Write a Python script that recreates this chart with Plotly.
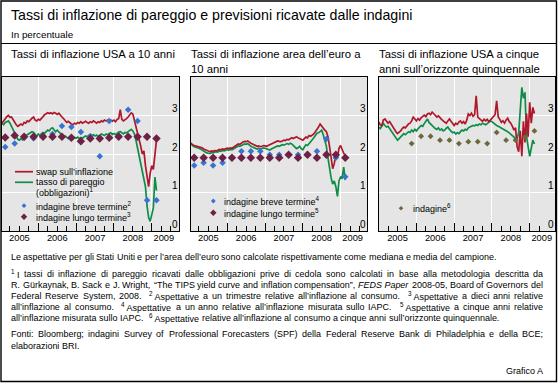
import plotly.graph_objects as go

# ---------------- data ----------------
# semi-monthly observation dates (decimal years), Jan 2005 - Feb 2009
T = [round(2005 + i / 24, 4) for i in range(100)]

US10_SWAP = [2.84, 2.80, 2.86, 2.93, 2.97, 3.00, 2.95, 2.96, 2.88, 2.82,
             2.76, 2.72, 2.74, 2.78, 2.75, 2.82, 2.80, 2.86, 2.84, 2.90,
             2.93, 2.96, 2.88, 2.86, 2.90, 2.88, 2.94, 2.97, 3.02, 3.04,
             3.07, 3.05, 3.07, 3.04, 3.08, 3.06, 3.03, 3.06, 3.00, 2.96,
             2.92, 2.86, 2.82, 2.85, 2.80, 2.78, 2.76, 2.80, 2.78, 2.82,
             2.80, 2.84, 2.80, 2.82, 2.85, 2.82, 2.80, 2.84, 2.82, 2.86,
             2.83, 2.80, 2.84, 2.82, 2.86, 2.84, 2.88, 2.86, 2.88, 2.84,
             2.88, 2.85, 2.88, 2.84, 2.90, 2.92, 3.15, 2.90, 2.86, 2.88,
             2.92, 2.96, 3.02, 3.07, 3.04, 2.88, 2.70, 2.50, 2.35, 2.20,
             2.00, 2.08, 1.70, 1.40, 1.15, 1.50, 1.70, 1.60, 2.00, 2.36]
US10_BE = [2.78, 2.80, 2.76, 2.82, 2.84, 2.86, 2.80, 2.72, 2.62, 2.55,
           2.45, 2.38, 2.36, 2.40, 2.37, 2.44, 2.48, 2.50, 2.52, 2.55,
           2.58, 2.56, 2.50, 2.46, 2.52, 2.48, 2.53, 2.56, 2.54, 2.58,
           2.62, 2.60, 2.66, 2.68, 2.62, 2.58, 2.62, 2.58, 2.52, 2.48,
           2.45, 2.47, 2.43, 2.40, 2.44, 2.42, 2.40, 2.43, 2.41, 2.44,
           2.40, 2.43, 2.41, 2.44, 2.47, 2.45, 2.49, 2.51, 2.48, 2.50,
           2.47, 2.49, 2.45, 2.48, 2.52, 2.50, 2.48, 2.52, 2.50, 2.53,
           2.55, 2.51, 2.53, 2.50, 2.55, 2.57, 2.58, 2.54, 2.52, 2.56,
           2.55, 2.58, 2.61, 2.64, 2.60, 2.52, 2.35, 2.15, 1.95, 1.75,
           1.55, 1.40, 1.15, 0.65, 0.35, 0.25, 0.45, 0.60, 1.40, 1.05]
EU_SWAP = [2.30, 2.26, 2.24, 2.22, 2.21, 2.20, 2.19, 2.18, 2.16, 2.13,
           2.11, 2.08, 2.07, 2.06, 2.08, 2.07, 2.09, 2.08, 2.10, 2.12,
           2.11, 2.13, 2.12, 2.14, 2.15, 2.14, 2.16, 2.15, 2.18, 2.21,
           2.24, 2.26, 2.25, 2.29, 2.31, 2.33, 2.32, 2.34, 2.30, 2.28,
           2.26, 2.24, 2.22, 2.20, 2.21, 2.19, 2.20, 2.22, 2.21, 2.20,
           2.22, 2.24, 2.26, 2.29, 2.31, 2.32, 2.34, 2.33, 2.32, 2.34,
           2.36, 2.35, 2.38, 2.37, 2.40, 2.42, 2.40, 2.43, 2.45, 2.42,
           2.40, 2.38, 2.36, 2.40, 2.44, 2.42, 2.48, 2.46, 2.48, 2.52,
           2.58, 2.63, 2.70, 2.78, 2.72, 2.66, 2.62, 2.58, 2.45, 2.19,
           1.85, 1.62, 1.75, 2.00, 1.90, 2.15, 2.22, 2.10, 2.02, 1.95]
EU_BE = [2.32, 2.26, 2.22, 2.19, 2.18, 2.16, 2.15, 2.13, 2.10, 2.08,
         2.05, 2.03, 2.02, 2.01, 2.04, 2.03, 2.05, 2.06, 2.05, 2.08,
         2.07, 2.09, 2.08, 2.10, 2.11, 2.10, 2.12, 2.11, 2.14, 2.16,
         2.19, 2.21, 2.20, 2.23, 2.24, 2.26, 2.25, 2.27, 2.23, 2.20,
         2.18, 2.16, 2.14, 2.13, 2.15, 2.12, 2.14, 2.16, 2.15, 2.13,
         2.12, 2.10, 2.13, 2.15, 2.17, 2.19, 2.21, 2.20, 2.22, 2.24,
         2.23, 2.25, 2.27, 2.25, 2.28, 2.26, 2.22, 2.18, 2.14, 2.16,
         2.20, 2.14, 2.11, 2.18, 2.24, 2.22, 2.28, 2.34, 2.37, 2.42,
         2.48, 2.54, 2.55, 2.60, 2.62, 2.50, 2.38, 2.20, 1.90, 1.60,
         1.38, 1.22, 1.30, 1.15, 0.90, 1.30, 1.40, 1.38, 1.66, 1.32]
US5Y5Y_SWAP = [2.83, 2.76, 2.74, 2.88, 2.91, 2.85, 2.80, 2.84, 2.77, 2.70,
               2.62, 2.58, 2.53, 2.56, 2.60, 2.66, 2.70, 2.68, 2.74, 2.78,
               2.80, 2.86, 2.96, 2.90, 2.86, 2.92, 2.88, 2.94, 2.98, 3.01,
               2.97, 3.04, 3.06, 3.02, 3.09, 3.05, 3.02, 2.96, 2.99, 2.93,
               2.90, 2.86, 2.83, 2.80, 2.86, 2.91, 2.85, 2.78, 2.74, 2.80,
               2.77, 2.83, 2.86, 2.80, 2.84, 2.78, 2.88, 3.04, 3.00, 3.06,
               2.98, 3.02, 3.51, 2.96, 2.92, 2.88, 2.85, 2.90, 2.86, 2.90,
               2.84, 2.88, 2.92, 2.96, 3.02, 3.38, 2.96, 2.90, 2.82, 2.86,
               2.80, 2.88, 2.93, 2.84, 2.80, 2.72, 2.62, 2.68, 2.19, 2.06,
               2.60, 1.94, 2.85, 2.30, 3.05, 2.45, 3.34, 2.80, 3.21, 3.05]
US5Y5Y_BE = [2.70, 2.66, 2.72, 2.79, 2.74, 2.70, 2.72, 2.66, 2.62, 2.56,
             2.49, 2.42, 2.36, 2.40, 2.45, 2.50, 2.53, 2.50, 2.54, 2.58,
             2.56, 2.62, 2.58, 2.64, 2.60, 2.66, 2.70, 2.74, 2.72, 2.79,
             2.84, 2.91, 2.82, 2.78, 2.72, 2.70, 2.66, 2.64, 2.68, 2.62,
             2.65, 2.60, 2.62, 2.67, 2.70, 2.64, 2.58, 2.55, 2.57, 2.52,
             2.55, 2.53, 2.58, 2.62, 2.60, 2.64, 2.62, 2.68, 2.70, 2.72,
             2.74, 2.73, 2.76, 2.74, 2.78, 2.76, 2.80, 2.78, 2.76, 2.79,
             2.82, 2.86, 2.84, 2.80, 2.78, 2.74, 2.72, 2.70, 2.68, 2.66,
             2.64, 2.60, 2.58, 2.55, 2.52, 2.48, 2.44, 2.36, 2.40, 2.55,
             3.10, 3.73, 3.45, 3.60, 2.45, 2.19, 1.94, 2.15, 2.36, 2.26]

# quarterly survey dates
TQ = [2005.125, 2005.375, 2005.625, 2005.875, 2006.125, 2006.375, 2006.625, 2006.875,
      2007.125, 2007.375, 2007.625, 2007.875, 2008.125, 2008.375, 2008.625, 2008.875, 2009.125]
US_SHORT = [2.18, 2.27, 2.43, 2.41, 2.48, 2.52, 2.73, 2.70, 2.57, 2.46, 1.94, 2.86,
            2.48, 3.15, 2.86, 0.80, 0.80]
US_LONG = [2.43, 2.48, 2.45, 2.45, 2.45, 2.45, 2.45, 2.42, 2.33, 2.40, 2.40, 2.42,
           2.45, 2.45, 2.45, 2.45, 2.40]
EU_SHORT = [1.70, 1.77, 1.70, 1.77, 1.90, 2.07, 2.07, 2.07, 1.98, 1.98, 1.98, 1.98,
            1.98, 2.07, 2.39, 1.90, 1.41]
EU_LONG = [1.90, 1.90, 1.90, 1.90, 1.90, 1.90, 1.90, 1.90, 1.90, 1.90, 1.98, 1.90,
           1.98, 1.90, 1.98, 1.98, 1.90]
TQ6 = [2005.875, 2006.125, 2006.375, 2006.625, 2006.875, 2007.125, 2007.375, 2007.625,
       2007.875, 2008.125, 2008.375, 2008.625, 2008.875, 2009.125]
US_5Y5Y_SURVEY = [2.27, 2.46, 2.46, 2.36, 2.36, 2.27, 2.32, 2.32, 2.27, 2.56, 2.36,
                  2.36, 2.44, 2.60]

YEAR_LABELS = ["2005", "2006", "2007", "2008", "2009"]
YEAR_LABEL_POS = [2005.5, 2006.5, 2007.5, 2008.5, 2009.32]
Y_TICKS = [0, 1, 2, 3]

# ---------------- style ----------------
W_PX, H_PX = 558, 383
FONT = "Liberation Sans, Arial, sans-serif"
RED = "#b0172b"
GREEN = "#0f8d48"
BLUE = "#3a72cf"
PURPLE = "#6d2145"
OLIVE = "#6b693c"
PANEL_BG = "#e5e5e5"


def px(x):
    return x / W_PX


def py(y):
    return 1 - y / H_PX


fig = go.Figure()

panels = [
    ("x", "y", T, US10_SWAP, US10_BE),
    ("x2", "y2", T, EU_SWAP, EU_BE),
    ("x3", "y3", T, US5Y5Y_SWAP, US5Y5Y_BE),
]
for xa, ya, t, red, green in panels:
    fig.add_trace(go.Scatter(x=t, y=green, mode="lines", xaxis=xa, yaxis=ya,
                             line=dict(color=GREEN, width=1.7)))
    fig.add_trace(go.Scatter(x=t, y=red, mode="lines", xaxis=xa, yaxis=ya,
                             line=dict(color=RED, width=1.7)))

fig.add_trace(go.Scatter(x=TQ, y=US_SHORT, mode="markers", xaxis="x", yaxis="y",
                         marker=dict(symbol="diamond", size=5, color=BLUE)))
fig.add_trace(go.Scatter(x=TQ, y=US_LONG, mode="markers", xaxis="x", yaxis="y",
                         marker=dict(symbol="diamond", size=6.5, color=PURPLE)))
fig.add_trace(go.Scatter(x=TQ, y=EU_SHORT, mode="markers", xaxis="x2", yaxis="y2",
                         marker=dict(symbol="diamond", size=5, color=BLUE)))
fig.add_trace(go.Scatter(x=TQ, y=EU_LONG, mode="markers", xaxis="x2", yaxis="y2",
                         marker=dict(symbol="diamond", size=6.5, color=PURPLE)))
fig.add_trace(go.Scatter(x=TQ6, y=US_5Y5Y_SURVEY, mode="markers", xaxis="x3", yaxis="y3",
                         marker=dict(symbol="diamond", size=4.5, color=OLIVE)))
# empty traces so the label-only overlay axes are instantiated
for xa, ya in (("x4", "y"), ("x5", "y2"), ("x6", "y3")):
    fig.add_trace(go.Scatter(x=[], y=[], xaxis=xa, yaxis=ya, mode="markers"))

X_DOMAINS = [(2, 179), (191, 367), (379, 555)]
X_RANGES = [(2005.04, 2009.72), (2005.04, 2009.70), (2005.01, 2009.67)]
Y_DOMAIN = [py(231), py(77)]

layout = dict(
    width=W_PX, height=H_PX, autosize=False,
    margin=dict(l=0, r=0, t=0, b=0, pad=0),
    paper_bgcolor="white", plot_bgcolor=PANEL_BG,
    showlegend=False,
    font=dict(family=FONT, color="black", size=10),
)

for k, ((d0, d1), rng) in enumerate(zip(X_DOMAINS, X_RANGES)):
    xn = "xaxis" if k == 0 else f"xaxis{k + 1}"
    yn = "yaxis" if k == 0 else f"yaxis{k + 1}"
    xref = "x" if k == 0 else f"x{k + 1}"
    yref = "y" if k == 0 else f"y{k + 1}"
    layout[xn] = dict(
        domain=[px(d0), px(d1)], range=list(rng), anchor=yref,
        tickmode="array", tickvals=[2006, 2007, 2008, 2009],
        ticks="inside", ticklen=8, tickwidth=1, tickcolor="black",
        showticklabels=False, showgrid=True, gridcolor="white", gridwidth=1,
        showline=True, linecolor="black", linewidth=1, mirror=True, zeroline=False,
        minor=dict(dtick=0.25, tick0=2005, ticks="inside", ticklen=5, tickwidth=1,
                   tickcolor="black", showgrid=False),
        fixedrange=True,
    )
    layout[f"xaxis{k + 4}"] = dict(
        overlaying=xref, anchor=yref, range=list(rng),
        tickmode="array", tickvals=YEAR_LABEL_POS, ticktext=YEAR_LABELS,
        ticks="", showgrid=False, showline=False, zeroline=False, side="bottom",
        tickfont=dict(size=9.3, family=FONT, color="black"), fixedrange=True,
    )
    layout[yn] = dict(
        domain=Y_DOMAIN, range=[0, 4], anchor=xref, side="right",
        tickmode="array", tickvals=Y_TICKS, ticktext=[str(v) for v in Y_TICKS],
        ticks="", ticklabelposition="inside top",
        tickfont=dict(size=10, family=FONT, color="black"),
        showgrid=True, gridcolor="white", gridwidth=1,
        showline=True, linecolor="black", linewidth=1, mirror=True, zeroline=False,
        fixedrange=True,
    )

annotations = []
shapes = []


def txt(x, y, s, size, anchor="left"):
    annotations.append(dict(x=px(x), y=py(y), xref="paper", yref="paper", text=s,
                            showarrow=False, xanchor=anchor, yanchor="middle",
                            borderpad=0, borderwidth=0,
                            font=dict(size=size, family=FONT, color="black")))


# frame
shapes.append(dict(type="rect", xref="paper", yref="paper", x0=px(1), x1=px(556.5),
                   y0=py(381.5), y1=py(1), line=dict(color="black", width=1.4),
                   fillcolor="rgba(0,0,0,0)", layer="above"))
shapes.append(dict(type="line", xref="paper", yref="paper", x0=px(1), x1=px(556.5),
                   y0=py(43.5), y1=py(43.5), line=dict(color="black", width=1.2)))

# titles
txt(11, 15, "Tassi di inflazione di pareggio e previsioni ricavate dalle indagini", 14.2)
txt(11, 34, "In percentuale", 9.8)
txt(11, 54.5, "Tassi di inflazione USA a 10 anni", 11.3)
txt(191, 54.5, "Tassi di inflazione area dell’euro a", 11.3)
txt(191, 68.5, "10 anni", 11.3)
txt(379, 54.5, "Tassi di inflazione USA a cinque", 11.3)
txt(379, 68.5, "anni sull’orizzonte quinquennale", 11.3)


# legend keys
def diamond(cx, cy, r, color):
    path = (f"M {px(cx - r)},{py(cy)} L {px(cx)},{py(cy - r)} "
            f"L {px(cx + r)},{py(cy)} L {px(cx)},{py(cy + r)} Z")
    shapes.append(dict(type="path", xref="paper", yref="paper", path=path,
                       fillcolor=color, line=dict(width=0)))


def keyline(x0, x1, y, color):
    shapes.append(dict(type="line", xref="paper", yref="paper", x0=px(x0), x1=px(x1),
                       y0=py(y), y1=py(y), line=dict(color=color, width=1.7)))


LEG = 9
keyline(15, 33, 171.7, RED)
txt(36, 171.7, "swap sull’inflazione", LEG)
keyline(15, 33, 182.3, GREEN)
txt(36, 182.3, "tasso di pareggio", LEG)
txt(36, 192, "(obbligazioni)<sup>1</sup>", LEG)
diamond(24, 205.7, 2.4, BLUE)
txt(36, 205.7, "indagine breve termine<sup>2</sup>", LEG)
diamond(24, 216.7, 3.2, PURPLE)
txt(36, 216.7, "indagine lungo termine<sup>3</sup>", LEG)

diamond(213.3, 201, 2.4, BLUE)
txt(224, 201, "indagine breve termine<sup>4</sup>", LEG)
diamond(213.3, 212.7, 3.2, PURPLE)
txt(224, 212.7, "indagine lungo termine<sup>5</sup>", LEG)

diamond(401, 208.3, 2.3, OLIVE)
txt(413, 208.3, "indagine<sup>6</sup>", LEG)

# ---------------- footnotes (per-word placement to imitate justified text) -------------
CW = {' ': 278, '!': 278, '(': 333, ')': 333, ',': 278, '-': 333, '.': 278, '/': 278,
      ':': 278, ';': 278, '’': 222, '‘': 222, '“': 333, '”': 333, 'ü': 556}
for c in "0123456789":
    CW[c] = 556
CW.update(dict(zip("ABCDEFGHIJKLMNOPQRSTUVWXYZ",
                   [667, 667, 722, 722, 667, 611, 778, 722, 278, 500, 667, 556, 833,
                    722, 778, 667, 778, 722, 667, 611, 722, 667, 944, 667, 667, 611])))
CW.update(dict(zip("abcdefghijklmnopqrstuvwxyz",
                   [556, 556, 500, 556, 556, 278, 556, 556, 222, 222, 500, 222, 833,
                    556, 556, 556, 556, 333, 500, 278, 556, 500, 722, 500, 500, 500])))


def render(tok):
    disp, units, ital, i = "", 0.0, False, 0
    while i < len(tok):
        c = tok[i]
        if c == "^":
            d = tok[i + 1]
            disp += f"<sup>{d}</sup>"
            units += CW.get(d, 556) * 0.7
            i += 2
            continue
        if c == "*":
            disp += "</i>" if ital else "<i>"
            ital = not ital
            i += 1
            continue
        if c == "~":
            c = " "
        disp += c
        units += CW.get(c, 556)
        i += 1
    return disp, units


def line_units(line):
    return sum(render(p)[1] for p in line.split(" ") if p) + CW[" "] * (line.count(" "))


L0 = "Le aspettative per gli Stati Uniti e per l’area dell’euro sono calcolate rispettivamente come mediana e media del campione."
FS = 485.0 * 1000 / line_units(L0)

FOOT = [
    (257.3, L0, False),
    (274.3, "^1~I tassi di inflazione di pareggio ricavati dalle obbligazioni prive di cedola sono calcolati in base alla metodologia descritta da", True),
    (285.2, "R. Gürkaynak, B. Sack e J. Wright, “The TIPS yield curve and inflation compensation”, *FEDS~Paper* 2008-05, Board of Governors del", True),
    (296.0, "Federal Reserve System, 2008.  ^2~Aspettative a un trimestre relative all’inflazione al consumo.  ^3~Aspettative a dieci anni relative", True),
    (306.9, "all’inflazione al consumo.  ^4~Aspettative a un anno relative all’inflazione misurata sullo IAPC.  ^5~Aspettative a cinque anni relative", True),
    (317.7, "all’inflazione misurata sullo IAPC.  ^6~Aspettative relative all’inflazione al consumo a cinque anni sull’orizzonte quinquennale.", False),
    (334.3, "Fonti: Bloomberg; indagini Survey of Professional Forecasters (SPF) della Federal Reserve Bank di Philadelphia e della BCE;", True),
    (345.7, "elaborazioni BRI.", False),
]
X_LEFT, X_RIGHT = 11, 543
for yline, line, justify in FOOT:
    parts = line.split(" ")
    words, weights, w = [], [], 0
    for p in parts:
        if p == "":
            w += 1
            continue
        words.append(render(p))
        weights.append(w)
        w = 1
    total_units = sum(u for _, u in words)
    gap_weight = sum(weights[1:])
    if justify:
        gap = (X_RIGHT - X_LEFT - total_units * FS / 1000) / gap_weight
    else:
        gap = CW[" "] * FS / 1000
    x = X_LEFT
    for (disp, u), wt in zip(words, weights):
        x += gap * wt
        txt(x, yline, disp, FS)
        x += u * FS / 1000

txt(543, 371, "Grafico A", FS, anchor="right")

layout["annotations"] = annotations
layout["shapes"] = shapes
fig.update_layout(**layout)

fig.write_html("out.html", config={"displayModeBar": False, "staticPlot": True},
               post_script="document.body.style.margin='0px';document.body.style.overflow='hidden';")
